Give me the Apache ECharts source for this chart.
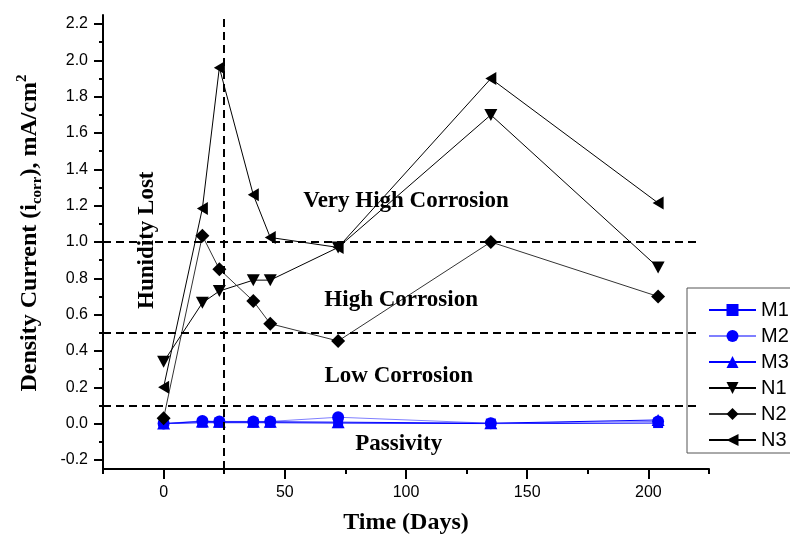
<!DOCTYPE html>
<html>
<head>
<meta charset="utf-8">
<script src="https://cdn.jsdelivr.net/npm/echarts@6/dist/echarts.min.js"></script>
<style>
  html, body { margin: 0; padding: 0; background: #fff; }
  #chart { width: 790px; height: 542px; }
</style>
</head>
<body>
<div id="chart"></div>
<script>
// --- data ---
var days = [0, 16, 23, 37, 44, 72, 135, 204];
var m1 = [0.0, 0.005, 0.005, 0.005, 0.005, 0.003, 0.0, 0.003];
var m2 = [0.0, 0.015, 0.012, 0.012, 0.012, 0.035, 0.002, 0.012];
var m3 = [0.0, 0.012, 0.010, 0.010, 0.010, 0.008, 0.002, 0.020];
var n1 = [0.34, 0.665, 0.73, 0.79, 0.79, 0.97, 1.70, 0.86];
var n2 = [0.03, 1.035, 0.85, 0.675, 0.55, 0.455, 1.00, 0.70];
var n3 = [0.20, 1.185, 1.96, 1.26, 1.025, 0.97, 1.90, 1.215];

var xMajor = [0, 50, 100, 150, 200];
var xMinor = [-25, 25, 75, 125, 175, 225];
var yMajor = [-0.2, 0, 0.2, 0.4, 0.6, 0.8, 1.0, 1.2, 1.4, 1.6, 1.8, 2.0, 2.2];
var yMinor = [-0.1, 0.1, 0.3, 0.5, 0.7, 0.9, 1.1, 1.3, 1.5, 1.7, 1.9, 2.1];

var levels = [1.0, 0.5, 0.1];     // corrosion thresholds
var humidityDay = 25;             // humidity lost
var zones = [
  { name: 'Very High Corrosion', x: 100, y: 1.225 },
  { name: 'High Corrosion', x: 98, y: 0.68 },
  { name: 'Low Corrosion', x: 97, y: 0.26 },
  { name: 'Passivity', x: 97, y: -0.115 }
];

var serif = 'Liberation Serif';
var sans = 'Liberation Sans';

function pairs(ys) {
  return days.map(function(d, i) { return [d, ys[i]]; });
}

var chart = echarts.init(document.getElementById('chart'), null, { renderer: 'canvas' });

var refLines = levels.map(function(v) {
  return [{ coord: [-25, v] }, { coord: [220, v] }];
});
refLines.push({ xAxis: humidityDay });

var notes = zones.map(function(z) {
  return { name: z.name, coord: [z.x, z.y] };
});
notes.push({ name: 'Hunidity Lost', coord: [-6.7, 1.01], label: { rotate: 90 } });

function mk(name, data, symbol, size, rotate, lineColor, markColor) {
  return {
    name: name,
    type: 'line',
    data: pairs(data),
    symbol: symbol,
    symbolSize: size,
    symbolRotate: rotate,
    showAllSymbol: true,
    lineStyle: { color: lineColor, width: 1 },
    itemStyle: { color: markColor },
    emphasis: { disabled: true }
  };
}

chart.setOption({
  animation: false,
  grid: { left: 103, right: 81, top: 15, bottom: 73 },
  legend: {
    orient: 'vertical',
    left: 687,
    top: 288,
    padding: [12, 40, 3, 21],
    itemWidth: 47,
    itemHeight: 15,
    itemGap: 6,
    borderColor: '#555',
    borderWidth: 1,
    backgroundColor: '#fff',
    textStyle: { fontFamily: sans, fontSize: 20, lineHeight: 20, color: '#000' },
    data: ['M1', 'M2', 'M3', 'N1', 'N2', 'N3']
  },
  xAxis: [{
    type: 'value',
    min: -25,
    max: 225,
    position: 'bottom',
    name: 'Time (Days)',
    nameLocation: 'middle',
    nameGap: 42,
    nameTextStyle: { fontFamily: serif, fontWeight: 'bold', fontSize: 24, color: '#000' },
    axisLine: { onZero: false, lineStyle: { color: '#000', width: 2 } },
    axisTick: { customValues: xMajor, length: 10, lineStyle: { color: '#000', width: 2 } },
    axisLabel: { customValues: xMajor, margin: 16, fontFamily: sans, fontSize: 16, color: '#000' },
    splitLine: { show: false }
  }, {
    type: 'value',
    min: -25,
    max: 225,
    position: 'bottom',
    axisLine: { show: false, onZero: false },
    axisTick: { customValues: xMinor, length: 5, lineStyle: { color: '#000', width: 2 } },
    axisLabel: { show: false },
    splitLine: { show: false }
  }],
  yAxis: [{
    type: 'value',
    min: -0.25,
    max: 2.25,
    position: 'left',
    name: '{b|Density Current (i}{sub|corr}{b|), mA/cm}{sup|2}',
    nameLocation: 'middle',
    nameGap: 58,
    nameTextStyle: {
      padding: [0, 0, 0, 18],
      rich: {
        b: { fontFamily: serif, fontWeight: 'bold', fontSize: 24, lineHeight: 30, color: '#000' },
        sub: { fontFamily: serif, fontWeight: 'bold', fontSize: 15, lineHeight: 15, verticalAlign: 'bottom', color: '#000' },
        sup: { fontFamily: serif, fontWeight: 'bold', fontSize: 15, lineHeight: 15, verticalAlign: 'top', color: '#000' }
      }
    },
    axisLine: { show: true, onZero: false, lineStyle: { color: '#000', width: 2 } },
    axisTick: { show: true, customValues: yMajor, length: 9, lineStyle: { color: '#000', width: 2 } },
    axisLabel: {
      customValues: yMajor,
      margin: 15,
      fontFamily: sans,
      fontSize: 16,
      color: '#000',
      formatter: function(v) { return v.toFixed(1); }
    },
    splitLine: { show: false }
  }, {
    type: 'value',
    min: -0.25,
    max: 2.25,
    position: 'left',
    axisLine: { show: false, onZero: false },
    axisTick: { show: true, customValues: yMinor, length: 4, lineStyle: { color: '#000', width: 2 } },
    axisLabel: { show: false },
    splitLine: { show: false }
  }],
  series: [
    {
      name: 'ref',
      type: 'line',
      data: [],
      clip: false,
      silent: true,
      markLine: {
        silent: true,
        symbol: 'none',
        label: { show: false },
        lineStyle: { color: '#000', width: 2, type: [8, 5] },
        emphasis: { disabled: true },
        data: refLines
      },
      markPoint: {
        silent: true,
        symbol: 'rect',
        symbolSize: 0,
        label: {
          show: true,
          position: 'inside',
          formatter: '{b}',
          fontFamily: serif,
          fontWeight: 'bold',
          fontSize: 23,
          color: '#000'
        },
        data: notes
      }
    },
    mk('M1', m1, 'rect', 10, 0, '#0000ff', '#0000ff'),
    mk('M2', m2, 'circle', 12, 0, '#7f7fff', '#0000ff'),
    mk('M3', m3, 'triangle', [13, 12], 0, '#0000ff', '#0000ff'),
    mk('N1', n1, 'triangle', [13, 12], 180, '#000', '#000'),
    mk('N2', n2, 'diamond', 14, 0, '#333', '#000'),
    mk('N3', n3, 'triangle', [13, 11], 90, '#000', '#000')
  ]
});
window.addEventListener('resize', function() { chart.resize(); });
</script>
</body>
</html>
